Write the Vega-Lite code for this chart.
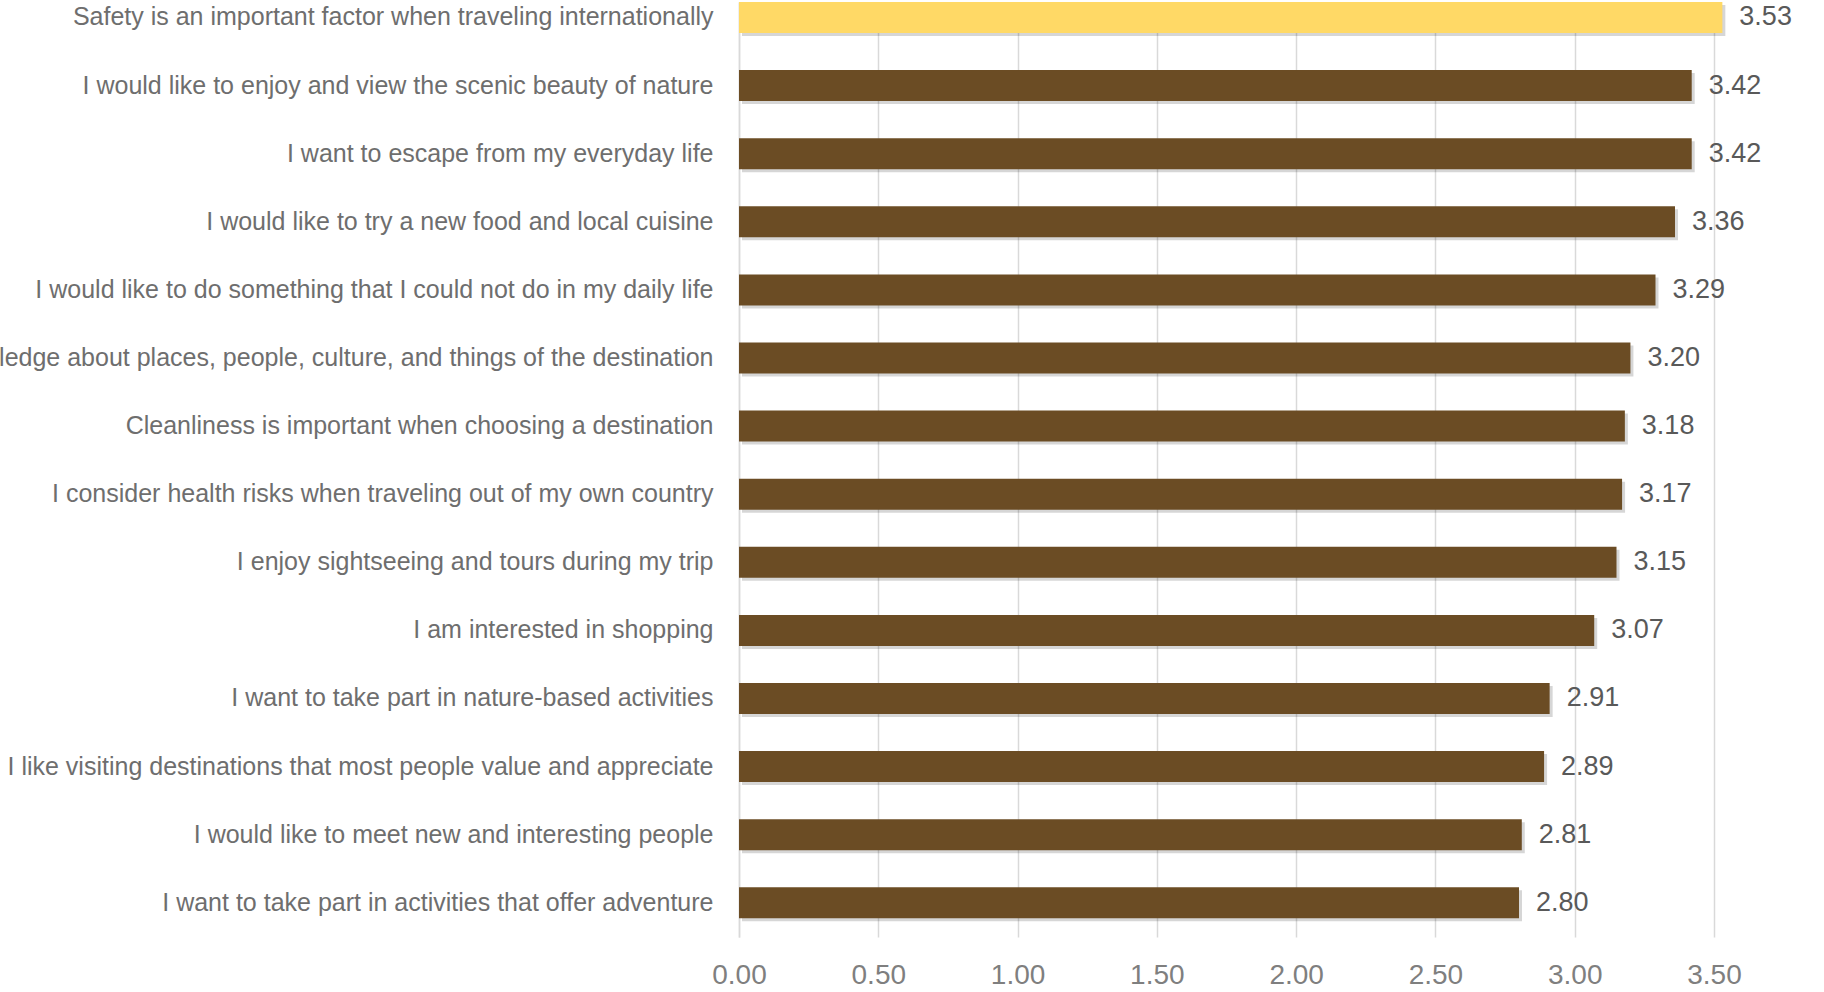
{
  "$schema": "https://vega.github.io/schema/vega-lite/v6.json",
  "width": 975,
  "height": 935,
  "autosize": "none",
  "padding": {"left": 739, "top": 2, "right": 110, "bottom": 55},
  "background": "white",
  "config": {"view": {"stroke": null}, "font": "Liberation Sans"},
  "data": {
    "values": [
      {"item": "Safety is an important factor when traveling internationally", "score": 3.53, "group": "highlight"},
      {"item": "I would like to enjoy and view the scenic beauty of nature", "score": 3.42, "group": "normal"},
      {"item": "I want to escape from my everyday life", "score": 3.42, "group": "normal"},
      {"item": "I would like to try a new food and local cuisine", "score": 3.36, "group": "normal"},
      {"item": "I would like to do something that I could not do in my daily life", "score": 3.29, "group": "normal"},
      {"item": "I would like to gain knowledge about places, people, culture, and things of the destination", "score": 3.20, "group": "normal"},
      {"item": "Cleanliness is important when choosing a destination", "score": 3.18, "group": "normal"},
      {"item": "I consider health risks when traveling out of my own country", "score": 3.17, "group": "normal"},
      {"item": "I enjoy sightseeing and tours during my trip", "score": 3.15, "group": "normal"},
      {"item": "I am interested in shopping", "score": 3.07, "group": "normal"},
      {"item": "I want to take part in nature-based activities", "score": 2.91, "group": "normal"},
      {"item": "I like visiting destinations that most people value and appreciate", "score": 2.89, "group": "normal"},
      {"item": "I would like to meet new and interesting people", "score": 2.81, "group": "normal"},
      {"item": "I want to take part in activities that offer adventure", "score": 2.80, "group": "normal"}
    ]
  },
  "encoding": {
    "y": {
      "field": "item",
      "type": "nominal",
      "sort": null,
      "title": null,
      "scale": {"paddingInner": 0.545, "paddingOuter": 0.1375, "align": 0},
      "axis": {
        "domain": true,
        "domainColor": "#d9d9d9",
        "domainWidth": 1.5,
        "ticks": false,
        "labelFontSize": 25,
        "labelColor": "#6e6e6e",
        "labelPadding": 26,
        "labelLimit": 2000
      }
    }
  },
  "layer": [
    {
      "mark": {"type": "bar", "color": "#000000", "opacity": 0.16, "xOffset": 3, "yOffset": 3},
      "encoding": {
        "x": {"field": "score", "type": "quantitative"}
      }
    },
    {
      "mark": {"type": "bar"},
      "encoding": {
        "x": {
          "field": "score",
          "type": "quantitative",
          "title": null,
          "scale": {"domain": [0, 3.5], "nice": false, "zero": true},
          "axis": {
            "values": [0, 0.5, 1, 1.5, 2, 2.5, 3, 3.5],
            "format": ".2f",
            "domain": false,
            "ticks": false,
            "grid": true,
            "gridColor": "#d9d9d9",
            "gridWidth": 1.5,
            "labelFlush": false,
            "labelFontSize": 28,
            "labelColor": "#7f7f7f",
            "labelPadding": 24
          }
        },
        "color": {
          "field": "group",
          "type": "nominal",
          "scale": {"domain": ["highlight", "normal"], "range": ["#FFD966", "#6B4C24"]},
          "legend": null
        }
      }
    },
    {
      "mark": {"type": "text", "align": "left", "baseline": "middle", "dx": 17, "fontSize": 27, "color": "#595959"},
      "encoding": {
        "x": {"field": "score", "type": "quantitative"},
        "text": {"field": "score", "type": "quantitative", "format": ".2f"}
      }
    }
  ]
}
